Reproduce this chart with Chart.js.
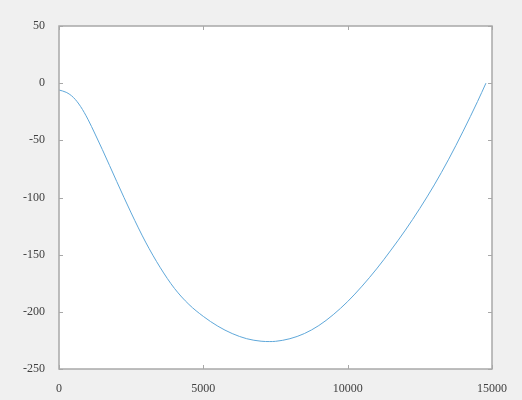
<!DOCTYPE html>
<html>
<head>
<meta charset="utf-8">
<script src="https://cdn.jsdelivr.net/npm/chart.js@4"></script>
<style>
  html, body { margin: 0; padding: 0; background: #f0f0f0; }
  canvas { display: block; }
</style>
</head>
<body>
<canvas id="chart" width="522" height="400"></canvas>
<script>
// values
const xValues = [0, 250, 500, 750, 1000, 1250, 1500, 2000, 2500, 3000, 3500, 4000, 4500, 5000, 5500, 6000, 6500,
  7000, 7300, 7500, 8000, 8500, 9000, 9500, 10000, 10500, 11000, 11500, 12000, 12500, 13000, 13500, 14000,
  14500, 14790];
const yValues = [-6, -8, -12.5, -20.5, -31.5, -44.5, -58, -86, -113.5, -139, -161, -179.5, -193.5, -204, -212.5,
  -219, -223.5, -225.7, -226, -225.8, -223.5, -219, -212, -202.5, -191, -177.5, -162.5, -146, -128.5, -109.5,
  -89, -66.5, -42, -16, 0];

const xTicks = [0, 5000, 10000, 15000];
const yTicks = [-250, -200, -150, -100, -50, 0, 50];

const points = xValues.map((x, i) => ({ x: x, y: yValues[i] }));

// white axes area, grey box and inward ticks on all four sides
const boxPlugin = {
  id: 'box',
  beforeDraw(chart) {
    const { ctx, chartArea: a } = chart;
    ctx.save();
    ctx.fillStyle = '#f0f0f0';
    ctx.fillRect(0, 0, chart.width, chart.height);
    ctx.fillStyle = '#ffffff';
    ctx.fillRect(a.left, a.top, a.right - a.left, a.bottom - a.top);
    ctx.restore();
  },
  afterDraw(chart) {
    const { ctx, chartArea: a, scales } = chart;
    const len = 4;
    ctx.save();
    ctx.strokeStyle = '#a8a8a8';
    ctx.lineWidth = 1;
    ctx.beginPath();
    xTicks.forEach(v => {
      const px = Math.round(scales.x.getPixelForValue(v)) + 0.5;
      ctx.moveTo(px, a.bottom); ctx.lineTo(px, a.bottom - len);
      ctx.moveTo(px, a.top); ctx.lineTo(px, a.top + len);
    });
    yTicks.forEach(v => {
      const py = Math.round(scales.y.getPixelForValue(v)) + 0.5;
      ctx.moveTo(a.left, py); ctx.lineTo(a.left + len, py);
      ctx.moveTo(a.right, py); ctx.lineTo(a.right - len, py);
    });
    ctx.stroke();
    ctx.lineWidth = 1.5;
    ctx.strokeRect(a.left, a.top, a.right - a.left, a.bottom - a.top);
    ctx.restore();
  }
};

const tickFont = { family: '"Liberation Serif", "DejaVu Serif", serif', size: 12 };

new Chart(document.getElementById('chart').getContext('2d'), {
  type: 'line',
  data: {
    datasets: [{
      data: points,
      borderColor: '#5fa8da',
      borderWidth: 1,
      pointRadius: 0,
      fill: false,
      cubicInterpolationMode: 'monotone'
    }]
  },
  options: {
    responsive: false,
    animation: false,
    devicePixelRatio: 1,
    layout: { padding: { top: 26, right: 30, left: 0, bottom: 0 } },
    plugins: { legend: { display: false }, tooltip: { enabled: false } },
    scales: {
      x: {
        type: 'linear',
        min: 0,
        max: 15000,
        afterBuildTicks: s => { s.ticks = xTicks.map(v => ({ value: v })); },
        afterFit: s => { s.height = 31; },
        grid: { display: false },
        border: { display: false },
        ticks: { font: tickFont, color: '#404040', padding: 5, maxRotation: 0,
          callback: v => String(v) }
      },
      y: {
        type: 'linear',
        min: -250,
        max: 50,
        afterBuildTicks: s => { s.ticks = yTicks.map(v => ({ value: v })); },
        afterFit: s => { s.width = 59; },
        grid: { display: false },
        border: { display: false },
        ticks: { font: tickFont, color: '#404040', padding: 6,
          callback: v => String(v) }
      }
    }
  },
  plugins: [boxPlugin]
});
</script>
</body>
</html>
